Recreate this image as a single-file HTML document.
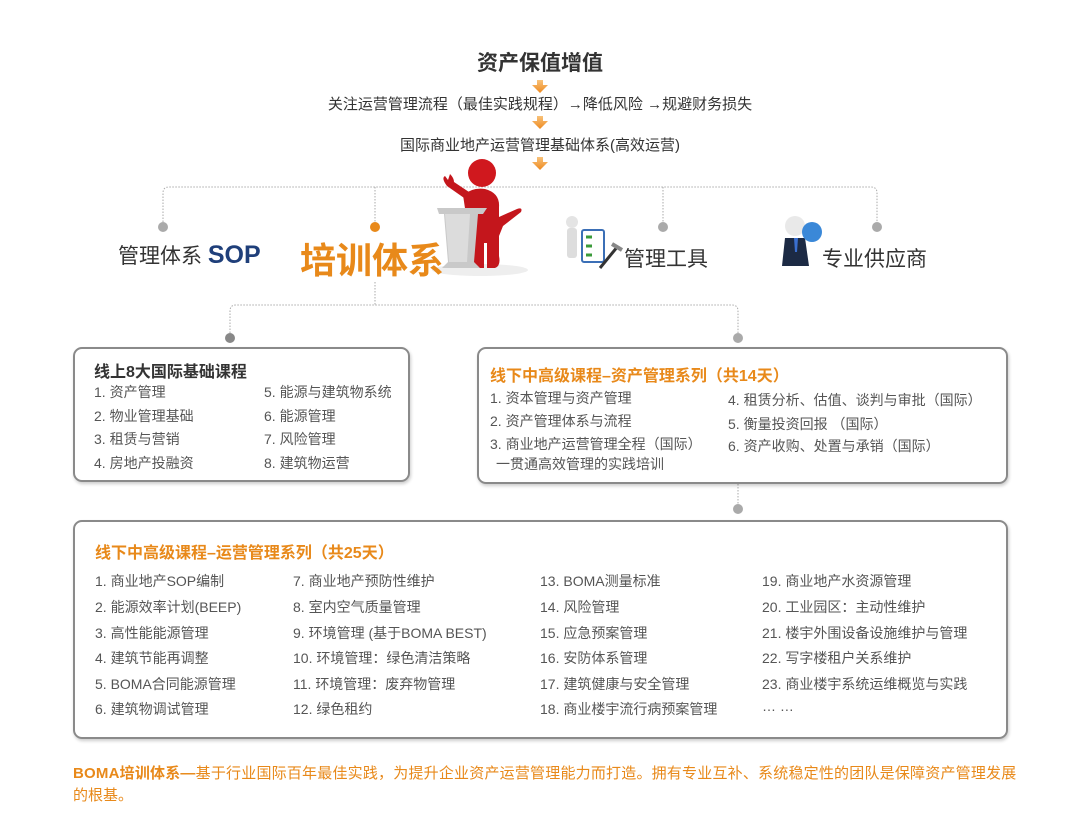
<!DOCTYPE html>
<html><head><meta charset="utf-8">
<style>
*{margin:0;padding:0;box-sizing:border-box}
body{width:1080px;height:838px;background:#fff;position:relative;overflow:hidden;font-family:"Liberation Sans","Noto Sans CJK SC",sans-serif;color:#333}
.a{position:absolute;white-space:nowrap}
.box{position:absolute;border:2px solid #8a8a8a;border-radius:9px;box-shadow:1px 2px 3px rgba(0,0,0,.2)}
.t{font-size:14px;color:#555;position:absolute;white-space:nowrap;line-height:16px}
.or{color:#e8891a}
</style></head><body>
<svg width="1080" height="838" style="position:absolute;left:0;top:0">
<defs><linearGradient id="ar" x1="0" y1="0" x2="0" y2="1"><stop offset="0" stop-color="#f8c27a"/><stop offset="1" stop-color="#ee8a1f"/></linearGradient></defs>
<g fill="url(#ar)">
<path d="M537 80h6v5h5l-8 8-8-8h5z"/>
<path d="M537 116h6v5h5l-8 8-8-8h5z"/>
<path d="M537 157h6v5h5l-8 8-8-8h5z"/>
</g>
<g fill="none" stroke="#aaa" stroke-width="1" stroke-dasharray="1.5 1.5">
<path d="M163 222V193q0-6 6-6H871q6 0 6 6v29"/>
<path d="M375 187v35M663 187v35"/>
<path d="M375 282v23M230 333V311q0-6 6-6H732q6 0 6 6v22"/>
<path d="M738 484v22"/>
</g>
<g fill="#aaa"><circle cx="163" cy="227" r="5"/><circle cx="663" cy="227" r="5"/><circle cx="877" cy="227" r="5"/><circle cx="230" cy="338" r="5" fill="#888"/><circle cx="738" cy="338" r="5"/><circle cx="738" cy="509" r="5"/></g>
<circle cx="375" cy="227" r="5" fill="#e8891a"/>
<!-- speaker -->
<ellipse cx="480" cy="270" rx="48" ry="6" fill="#eee"/>
<path d="M463 195q10-8 22-6q15 4 14 18l0 10l18-8q6-2 4 3l-18 14l-4 10v20q2 10 -4 12h-8v-25h-3v25h-10z" fill="#c4161c"/>
<path d="M467 200l-20-14q-6-8 -2-10l3 4l2-6q4 4 4 8l18 12z" fill="#c4161c"/>
<circle cx="482" cy="173" r="14" fill="#d0181e"/>
<path d="M437 208h50l-4 6h-5l-4 48l6 6h-38l6-6l-4-48h-5z" fill="#c9c9c9"/>
<path d="M445 214h25l-3 48h-18z" fill="#dcdcdc"/>
<!-- tools -->
<circle cx="572" cy="222" r="6" fill="#e4e4e4"/><rect x="567" y="228" width="10" height="30" rx="3" fill="#ddd"/>
<rect x="582" y="230" width="22" height="32" rx="2" fill="#fff" stroke="#3b6fb6" stroke-width="2"/>
<path d="M586 237h6M586 246h6M586 255h6" stroke="#3a9a3a" stroke-width="3"/>
<path d="M600 268l18-22" stroke="#333" stroke-width="3"/><path d="M612 244l10 6" stroke="#888" stroke-width="4"/>
<!-- supplier -->
<circle cx="795" cy="226" r="10" fill="#e9e9e9"/><path d="M782 266l3-28h20l4 28z" fill="#1c2a44"/><path d="M794 238h4l-1 14h-2z" fill="#3a6fd0"/>
<circle cx="812" cy="232" r="10" fill="#3a88d8"/>
</svg>
<div class="a" style="left:0;width:1080px;text-align:center;top:47px;font-size:21px;font-weight:bold;color:#333">资产保值增值</div>
<div class="a" style="left:0;width:1080px;text-align:center;top:93px;font-size:15px;color:#333">关注运营管理流程（最佳实践规程）→降低风险 →规避财务损失</div>
<div class="a" style="left:0;width:1080px;text-align:center;top:134px;font-size:15px;color:#333">国际商业地产运营管理基础体系(高效运营)</div>
<div class="a" style="left:118px;top:240px;font-size:21px;color:#333">管理体系 <b style="color:#1f3f7a;font-size:25px">SOP</b></div>
<div class="a or" style="left:300px;top:232px;font-size:36px;font-weight:bold">培训体系</div>
<div class="a" style="left:624px;top:243px;font-size:21px;color:#333">管理工具</div>
<div class="a" style="left:822px;top:243px;font-size:21px;color:#333">专业供应商</div>

<div class="box" style="left:73px;top:347px;width:337px;height:135px"></div>
<div class="a" style="left:94px;top:358px;font-size:16px;font-weight:bold;color:#333">线上8大国际基础课程</div>
<div class="t" style="left:94px;top:384px">1. 资产管理</div><div class="t" style="left:94px;top:408px">2. 物业管理基础</div><div class="t" style="left:94px;top:431px">3. 租赁与营销</div><div class="t" style="left:94px;top:455px">4. 房地产投融资</div>
<div class="t" style="left:264px;top:384px">5. 能源与建筑物系统</div><div class="t" style="left:264px;top:408px">6. 能源管理</div><div class="t" style="left:264px;top:431px">7. 风险管理</div><div class="t" style="left:264px;top:455px">8. 建筑物运营</div>

<div class="box" style="left:477px;top:347px;width:531px;height:137px"></div>
<div class="a or" style="left:490px;top:362px;font-size:16px;font-weight:bold">线下中高级课程–资产管理系列（共14天）</div>
<div class="t" style="left:490px;top:390px">1. 资本管理与资产管理</div><div class="t" style="left:490px;top:413px">2. 资产管理体系与流程</div><div class="t" style="left:490px;top:436px">3. 商业地产运营管理全程（国际）</div><div class="t" style="left:496px;top:456px">一贯通高效管理的实践培训</div>
<div class="t" style="left:728px;top:392px">4. 租赁分析、估值、谈判与审批（国际）</div><div class="t" style="left:728px;top:416px">5. 衡量投资回报 （国际）</div><div class="t" style="left:728px;top:438px">6. 资产收购、处置与承销（国际）</div>

<div class="box" style="left:73px;top:520px;width:935px;height:219px"></div>
<div class="a or" style="left:95px;top:539px;font-size:16px;font-weight:bold">线下中高级课程–运营管理系列（共25天）</div>
<div class="t" style="left:95px;top:573px">1. 商业地产SOP编制</div><div class="t" style="left:95px;top:599px">2. 能源效率计划(BEEP)</div><div class="t" style="left:95px;top:625px">3. 高性能能源管理</div><div class="t" style="left:95px;top:650px">4. 建筑节能再调整</div><div class="t" style="left:95px;top:676px">5. BOMA合同能源管理</div><div class="t" style="left:95px;top:701px">6. 建筑物调试管理</div>
<div class="t" style="left:293px;top:573px">7. 商业地产预防性维护</div><div class="t" style="left:293px;top:599px">8. 室内空气质量管理</div><div class="t" style="left:293px;top:625px">9. 环境管理 (基于BOMA BEST)</div><div class="t" style="left:293px;top:650px">10. 环境管理：绿色清洁策略</div><div class="t" style="left:293px;top:676px">11. 环境管理：废弃物管理</div><div class="t" style="left:293px;top:701px">12. 绿色租约</div>
<div class="t" style="left:540px;top:573px">13. BOMA测量标准</div><div class="t" style="left:540px;top:599px">14. 风险管理</div><div class="t" style="left:540px;top:625px">15. 应急预案管理</div><div class="t" style="left:540px;top:650px">16. 安防体系管理</div><div class="t" style="left:540px;top:676px">17. 建筑健康与安全管理</div><div class="t" style="left:540px;top:701px">18. 商业楼宇流行病预案管理</div>
<div class="t" style="left:762px;top:573px">19. 商业地产水资源管理</div><div class="t" style="left:762px;top:599px">20. 工业园区：主动性维护</div><div class="t" style="left:762px;top:625px">21. 楼宇外围设备设施维护与管理</div><div class="t" style="left:762px;top:650px">22. 写字楼租户关系维护</div><div class="t" style="left:762px;top:676px">23. 商业楼宇系统运维概览与实践</div><div class="t" style="left:762px;top:698px">… …</div>

<div class="a or" style="left:73px;top:762px;font-size:15px;letter-spacing:0.2px"><b>BOMA培训体系—</b>基于行业国际百年最佳实践，为提升企业资产运营管理能力而打造。拥有专业互补、系统稳定性的团队是保障资产管理发展</div>
<div class="a or" style="left:73px;top:784px;font-size:15px">的根基。</div>
</body></html>
